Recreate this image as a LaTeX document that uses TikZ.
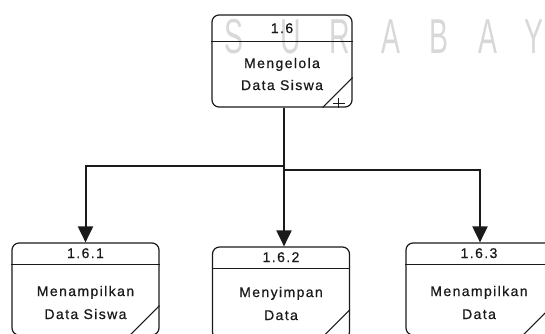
\documentclass[tikz,border=0pt]{standalone}
\usepackage{fontspec}
\setmainfont{Liberation Sans}
\newfontfamily\boxfont[LetterSpace=10,FakeBold=0.7]{Liberation Sans}
\newfontfamily\markfont{Liberation Sans}
\usetikzlibrary{arrows.meta,calc}
\definecolor{ink}{HTML}{1A1A1A}
\definecolor{markgray}{HTML}{D8D8D8}

\begin{document}
\begin{tikzpicture}[x=1pt,y=-1pt,
  proc/.style 2 args={draw=ink, line width=1.2pt, rounded corners=7pt,
    minimum width=#1, minimum height=#2, inner sep=0pt},
  rule/.style={draw=ink, line width=1.1pt},
  txt/.style={anchor=base, inner sep=0pt, text=ink,
    font=\boxfont\fontsize{14}{16}\selectfont},
  conn/.style={draw=ink, line width=2pt},
  arr/.style={-{Triangle[width=15pt,length=16pt]}},
  wm/.style={anchor=base, inner sep=0pt, text=markgray, xscale=0.58,
    font=\markfont\fontsize{49}{49}\selectfont}]

\useasboundingbox (0,0) rectangle (545,333);

% watermark lettering
\foreach \ch/\px [count=\i] in {S/234, U/291, R/340, A/391, B/439, A/488, Y/534}
  \node[wm] (wm\i) at (\px,53) {\ch};

% process boxes
\node[proc={140pt}{92pt}] (p)  at (282,61)  {};
\node[proc={147pt}{92pt}] (c1) at (85.5,289) {};
\node[proc={137pt}{92pt}] (c2) at (281,293)  {};
\node[proc={146pt}{92pt}] (c3) at (479,289)  {};

% header rules
\draw[rule] ($(p.north west)+(0,27)$)  -- ($(p.north east)+(0,27)$);
\draw[rule] ($(c1.north west)+(0,22)$) -- ($(c1.north east)+(0,22)$);
\draw[rule] ($(c2.north west)+(0,22)$) -- ($(c2.north east)+(0,22)$);
\draw[rule] ($(c3.north west)+(0,22)$) -- ($(c3.north east)+(0,22)$);

% folded corners
\foreach \b in {p,c1,c2,c3}
  \draw[rule] ($(\b.south east)+(0,-30)$) -- ($(\b.south east)+(-30,0)$);
% expansion mark
\draw[draw=ink, line width=0.8pt] ($(p.south east)+(-20,-4)$) -- ($(p.south east)+(-8,-4)$)
  ($(p.south east)+(-14,-10)$) -- ($(p.south east)+(-14,0)$);

% labels
\node[txt] (pn) at (282,33) {1.6};
\node[txt] (pa) at (282,68) {Mengelola};
\node[txt] (pb) at (282,90) {Data Siswa};

\node[txt] (c1n) at (85.5,258) {1.6.1};
\node[txt] (c1a) at (85.5,296) {Menampilkan};
\node[txt] (c1b) at (85.5,319) {Data Siswa};

\node[txt] (c2n) at (281,262) {1.6.2};
\node[txt] (c2a) at (281,297) {Menyimpan};
\node[txt] (c2b) at (281,320) {Data};

\node[txt] (c3n) at (479,258) {1.6.3};
\node[txt] (c3a) at (479,296) {Menampilkan};
\node[txt] (c3b) at (479,319) {Data};

% connectors
\coordinate (j1) at (284,166);
\coordinate (j2) at (284,170);
\draw[conn] ([xshift=2pt]p.south) -- (j2);
\draw[conn,arr] ([xshift=2pt]p.south) -- ([xshift=3pt]c2.north);
\draw[conn,arr] (j1) -| (c1.north);
\draw[conn,arr] (j2) -| ([xshift=1pt]c3.north);
\end{tikzpicture}
\end{document}
